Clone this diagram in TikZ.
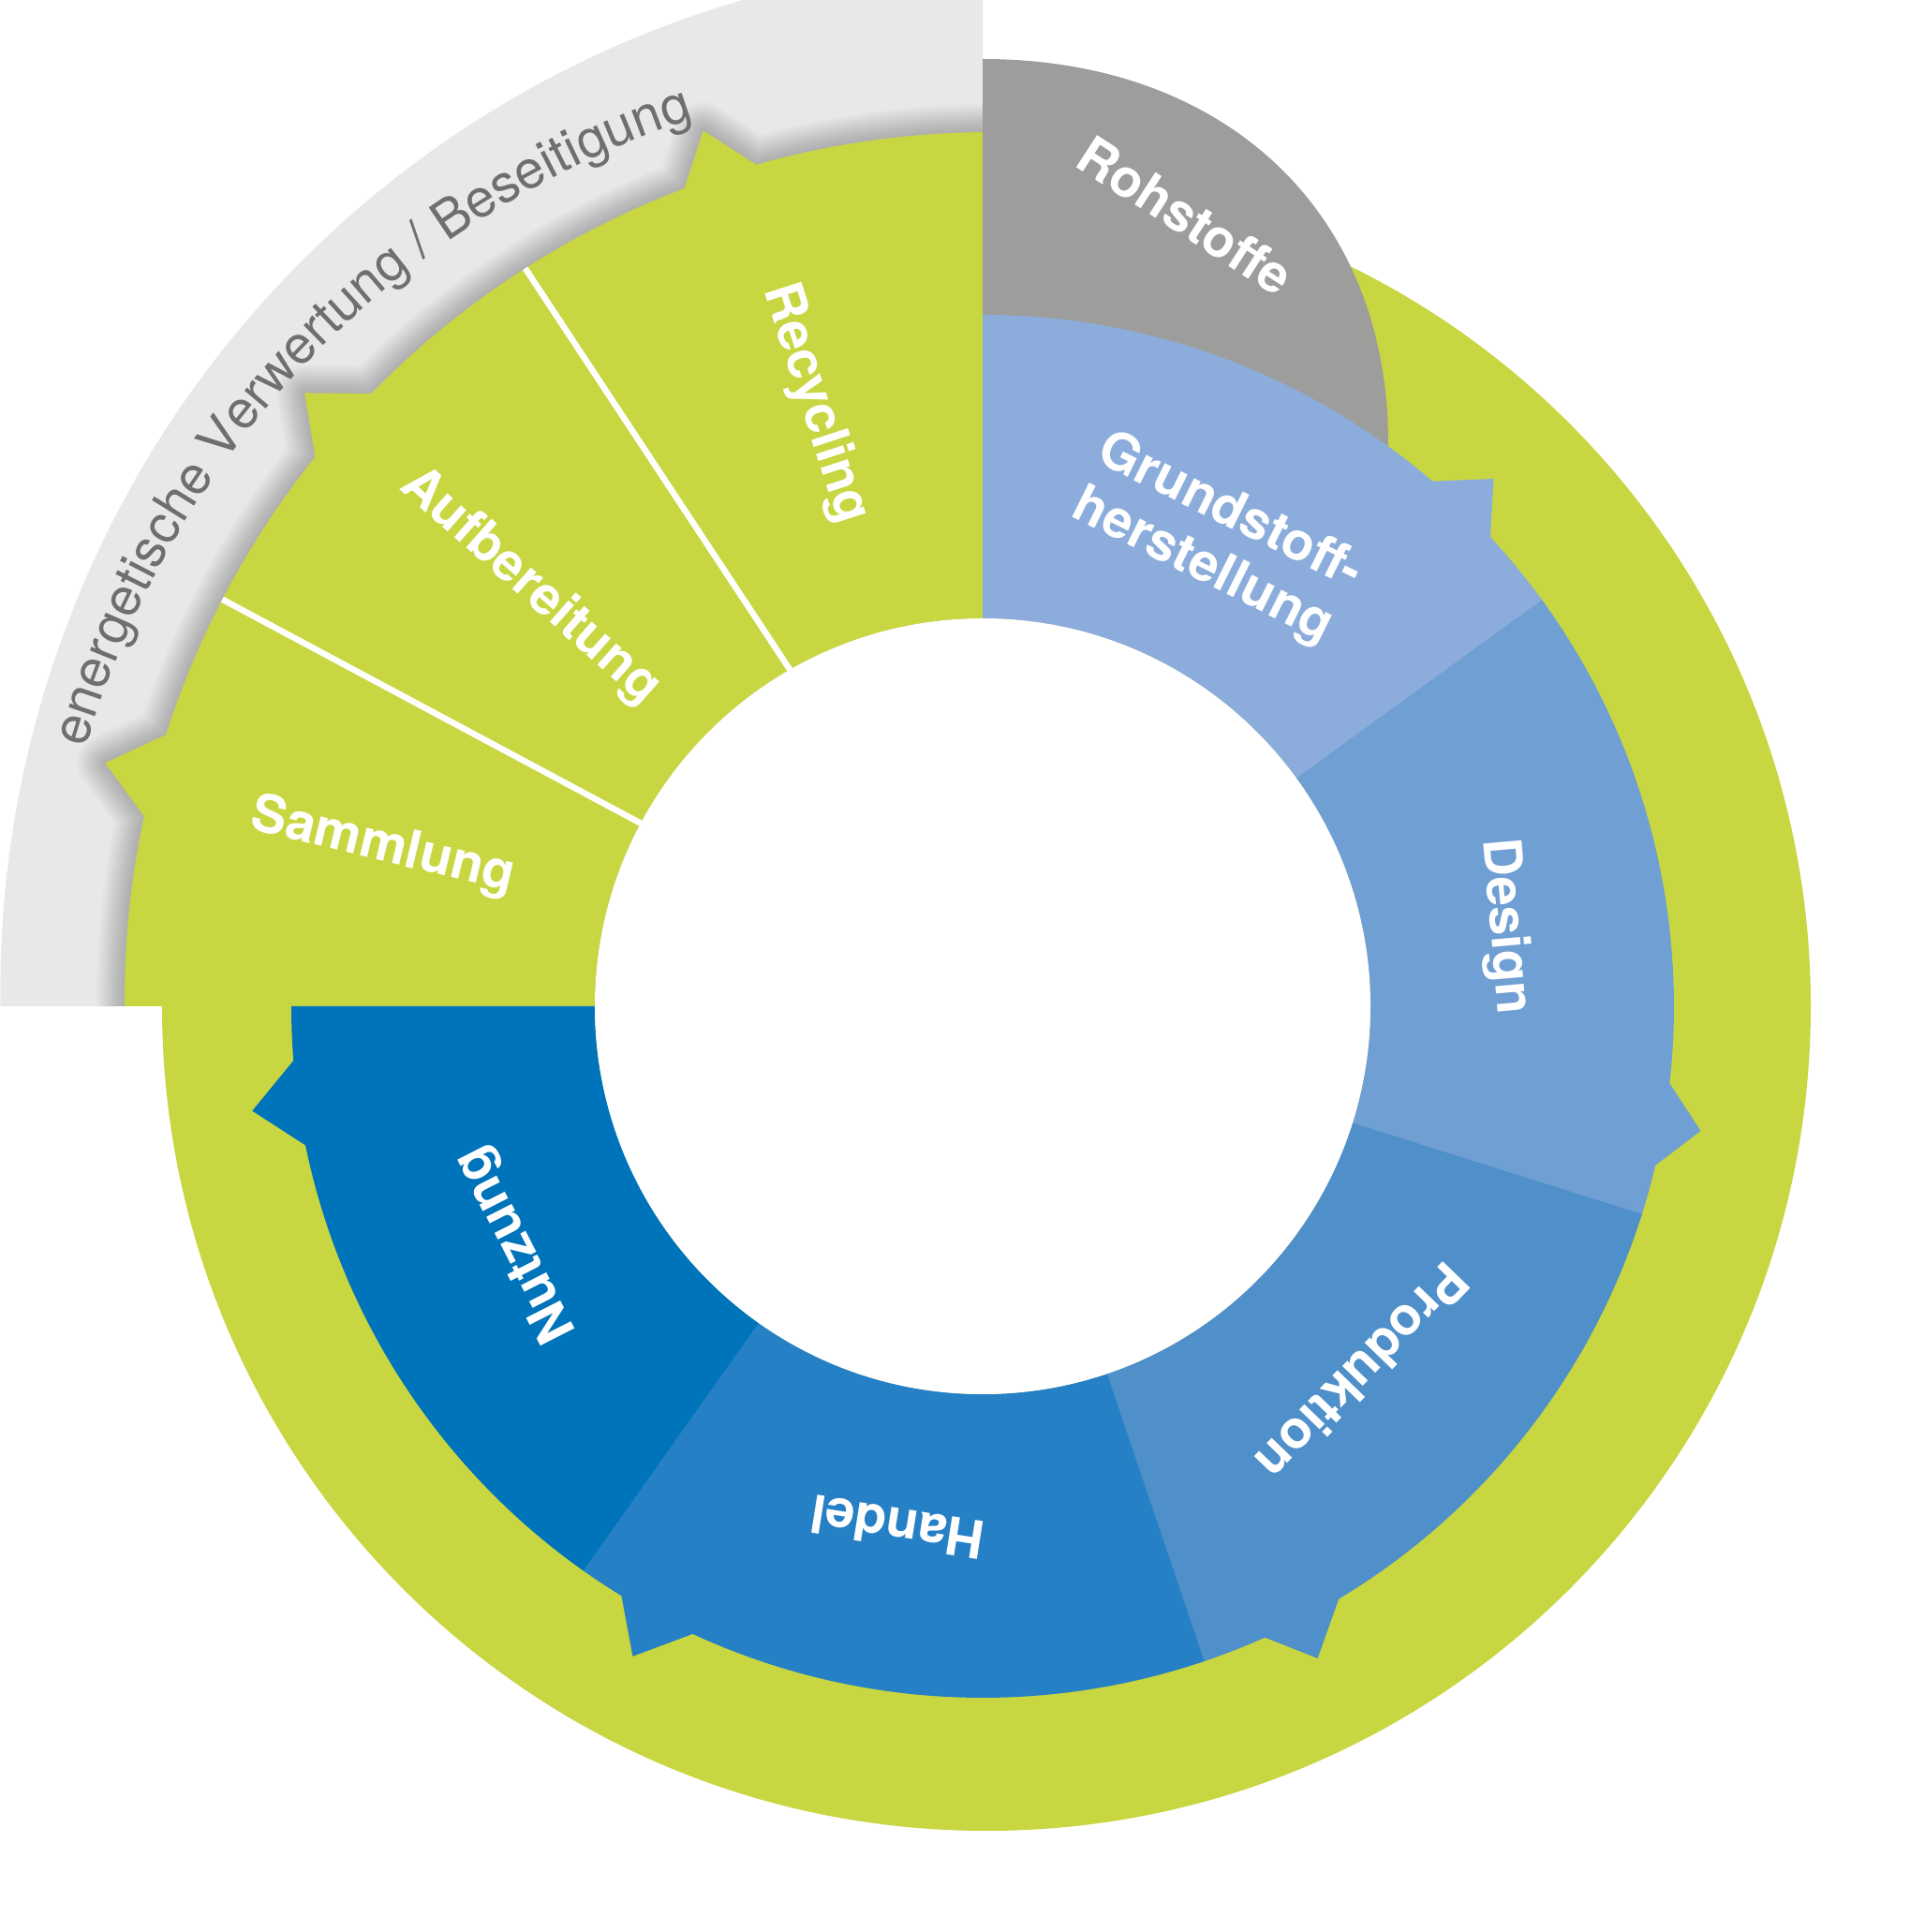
\documentclass[tikz,border=0pt]{standalone}
\usepackage{fontspec}
\setmainfont{TeX Gyre Heros}
\usetikzlibrary{decorations.text}
\definecolor{lgreen}{RGB}{200,214,65}
\definecolor{bandgray}{RGB}{232,232,232}
\definecolor{rgray}{RGB}{157,157,156}
\definecolor{cgrund}{RGB}{140,173,219}
\definecolor{cdesign}{RGB}{111,159,211}
\definecolor{cprod}{RGB}{79,143,202}
\definecolor{chandel}{RGB}{38,128,197}
\definecolor{cnutz}{RGB}{0,116,186}
\definecolor{bandtext}{RGB}{111,111,110}
\newcommand\bandfont{\fontsize{16.1}{18}\selectfont}
\newcommand\bseg[7]{\fill[#7] (#1:4.14) -- (#1:7.38) arc[start angle=#1, end angle=#3, radius=7.38] -- (#4:#5) -- (#6:7.38) arc[start angle=#6, end angle=#2, radius=7.38] -- (#2:4.14) arc[start angle=#2, end angle=#1, radius=4.14] -- cycle;}
\def\greenpath{(180:4.14) -- plot[domain=180:167.25,samples=12] (\x:{rg(\x)}) -- (164.5:9.72) -- plot[domain=161.6:140.55,samples=20] (\x:{rg(\x)}) -- (137.88:9.76) -- plot[domain=134.96:110.04,samples=20] (\x:{rg(\x)}) -- (107.7:9.81) -- plot[domain=105.06:90,samples=12] (\x:{rg(\x)}) -- (90:4.14) arc[start angle=90, end angle=180, radius=4.14] -- cycle}
\begin{document}
\begin{tikzpicture}[
  declare function={rg(\t)=9.258+0.098*cos(\t)+0.072*sin(\t); rb(\t)=10.995+0.51*cos(\t)+0.17*sin(\t);},
  lbl/.style={text=white, font=\fontsize{16}{18.5}\selectfont\bfseries, align=center, inner sep=0pt}]
\useasboundingbox (-10.49,-9.88) rectangle (9.90,10.74);
\clip (-10.49,-9.88) rectangle (9.90,10.74);
% outer grey band
\fill[bandgray] (0,0) -- plot[domain=180:90, samples=60] (\x:{rb(\x)}) -- cycle;
% big green circle
\fill[lgreen] (0.04,0) circle[radius=8.80];
% soft shadow of green segments on band
\begin{scope}
  \clip (-11,0) rectangle (0,11);
  \foreach \w in {0.60,0.56,0.52,0.48,0.44,0.40,0.36,0.32,0.28,0.24,0.20,0.16,0.12,0.08,0.04} {
    \draw[black, opacity=0.016, line width=\w cm, line join=round] \greenpath;
  }
\end{scope}
% green segments
\fill[lgreen] \greenpath;
% Rohstoffe
\fill[rgray] (0,10.11) .. controls (2.60,10.11) and (4.33,8.47) .. (4.33,6.01) -- (4.33,4.0) -- (0,4.0) -- cycle;
% blue segments
\bseg{90}{35.6}{49.4}{45.9}{7.84}{42.75}{cgrund}
\bseg{36}{-17.9}{-6.4}{-9.84}{7.78}{-13.3}{cdesign}
\bseg{-17.5}{-71.7}{-59.0}{-62.8}{7.825}{-65.9}{cprod}
\bseg{-71.3}{-125.7}{-114.8}{-118.3}{7.88}{-121.5}{chandel}
\bseg{-125.3}{-180}{-168.4}{-171.85}{7.877}{-175.5}{cnutz}
% inner hole
\fill[white] (0,0) circle[radius=4.14];
% white separators
\coordinate (s1i) at (151.85:4.14);
\coordinate (s1o) at (151.85:{rg(151.85)});
\coordinate (s2i) at (119.8:4.14);
\coordinate (s2o) at (121.8:{rg(121.8)});
\draw[white, line width=0.065cm] (s1i) -- (s1o);
\draw[white, line width=0.065cm] (s2i) -- (s2o);
% band text
\path[decorate, decoration={text along path, text align=center, text color=bandtext,
  text={|\bandfont|energetische Verwertung / Beseitigung}}]
  (172:9.96) arc[start angle=172, end angle=100, radius=9.96];
% labels
\node[lbl, rotate=-33] (roh) at (2.17,8.44) {Rohstoffe};
\node[lbl, rotate=-26.5] (grund) at (2.49,4.98) {Grundstoff-\\herstellung};
\node[lbl, rotate=-85] (design) at (5.57,0.85) {Design};
\node[lbl, rotate=-134] (prod) at (4.06,-3.91) {Produktion};
\node[lbl, rotate=171] (handel) at (-0.91,-5.56) {Handel};
\node[lbl, rotate=117] (nutz) at (-4.97,-2.54) {Nutzung};
\node[lbl, rotate=-13.5] (samm) at (-6.40,1.70) {Sammlung};
\node[lbl, rotate=-41.5] (aufb) at (-4.83,4.48) {Aufbereitung};
\node[lbl, rotate=-72] (recyc) at (-1.79,6.43) {Recycling};
\end{tikzpicture}
\end{document}
